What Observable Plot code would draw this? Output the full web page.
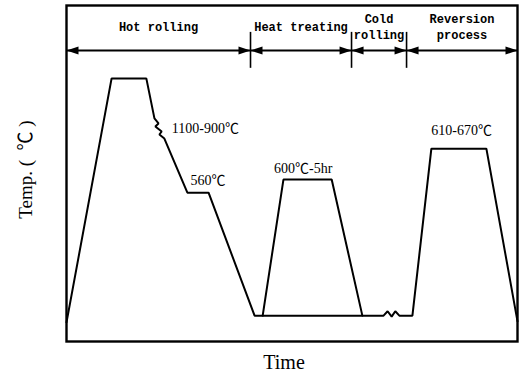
<!DOCTYPE html>
<html>
<head>
<meta charset="utf-8">
<script src="https://cdn.jsdelivr.net/npm/d3@7"></script>
<script src="https://cdn.jsdelivr.net/npm/@observablehq/plot@0.6"></script>
<style>
  body { margin: 0; background: #fff; }
</style>
</head>
<body>
<div id="chart"></div>
<script>
// Processing stages along the (relative) time axis, 0–100
const stageNames = ["Hot rolling", "Heat treating", "Cold\nrolling", "Reversion\nprocess"];
const stageStart = [0, 40.8, 63.2, 75.4];
const stageEnd = [40.8, 63.2, 75.4, 100];

// Main thermal path: relative time vs. relative temperature level (schematic, 0–100)
const pathTime = [0, 10.0, 17.7, 19.5, 20.4, 19.7, 21.1, 20.6, 21.7, 26.8, 31.5, 41.7,
                  70.3, 71.2, 72.1, 72.9, 73.8, 76.7, 80.9, 93.1, 100];
const pathTemp = [5.7, 78.3, 78.3, 66.4, 64.9, 64.0, 62.5, 61.6, 60.4, 44.3, 44.3, 7.7,
                  7.7, 9.0, 7.4, 9.0, 7.7, 7.7, 57.4, 57.4, 6.0];

// Heat-treatment hold, drawn over the room-temperature line
const holdTime = [43.5, 48.1, 58.8, 65.6];
const holdTemp = [7.7, 48.2, 48.2, 7.7];

// Temperature notes
const noteText = ["1100-900℃", "560℃", "600℃-5hr", "610-670℃"];
const noteTime = [30.8, 31.4, 52.5, 87.6];
const noteTemp = [63.4, 47.9, 51.5, 62.8];

// Layout of the stage header row (in the y scale's units)
const arrowLevel = 86.6;
const dividerLow = 81.3;
const dividerHigh = 92.0;
const stageLabelLevel = 94.0;

const path = pathTime.map((t, i) => ({t, T: pathTemp[i], part: "main"}))
  .concat(holdTime.map((t, i) => ({t, T: holdTemp[i], part: "hold"})));
const stages = stageNames.map((name, i) => ({name, start: stageStart[i], end: stageEnd[i]}));
const notes = noteText.map((text, i) => ({text, t: noteTime[i], T: noteTemp[i]}));
const dividers = stageStart.slice(1);

// Elongated filled arrowhead with its tip at the origin, pointing right
const arrowHead = {
  draw(context, size) {
    const k = Math.sqrt(size / Math.PI);
    context.moveTo(0, 0);
    context.lineTo(-3 * k, -k);
    context.lineTo(-3 * k, k);
    context.closePath();
  }
};

const headerFont = "'Liberation Mono', 'DejaVu Sans Mono', monospace";
const serif = "'Liberation Serif', 'Noto Sans CJK SC', serif";

const chart = Plot.plot({
  width: 524,
  height: 373,
  marginLeft: 66,
  marginRight: 7,
  marginTop: 5,
  marginBottom: 32,
  x: {domain: [0, 100], axis: null},
  y: {domain: [0, 100], axis: null},
  style: {background: "#fff", color: "#000"},
  marks: [
    Plot.frame({stroke: "#000", strokeWidth: 2.4}),
    // stage header: arrow line, dividers and arrowheads
    Plot.ruleY([arrowLevel], {x1: 0, x2: 100, stroke: "#000", strokeWidth: 2}),
    Plot.ruleX(dividers, {y1: dividerLow, y2: dividerHigh, stroke: "#000", strokeWidth: 1.6}),
    Plot.dot(stages, {x: "start", y: arrowLevel, symbol: arrowHead, r: 4, fill: "#000", stroke: null, rotate: 180}),
    Plot.dot(stages, {x: "end", y: arrowLevel, symbol: arrowHead, r: 4, fill: "#000", stroke: null}),
    Plot.text(stages, {
      x: d => (d.start + d.end) / 2, y: stageLabelLevel, text: "name",
      fontFamily: headerFont, fontWeight: "bold", fontSize: 12, lineHeight: 1.33, fill: "#000"
    }),
    // thermal path
    Plot.line(path, {x: "t", y: "T", z: "part", stroke: "#000", strokeWidth: 2, strokeLinejoin: "miter"}),
    Plot.text(notes, {x: "t", y: "T", text: "text", fontFamily: serif, fontSize: 14, fill: "#000"}),
    // axis titles
    Plot.text(["Time"], {
      frameAnchor: "bottom", textAnchor: "middle", lineAnchor: "middle", dx: -8, dy: 21,
      fontFamily: serif, fontSize: 20, fill: "#000"
    }),
    Plot.text(["Temp. (  ℃ )"], {
      frameAnchor: "left", textAnchor: "middle", lineAnchor: "middle", rotate: -90, dx: -41, dy: -4,
      fontFamily: serif, fontSize: 19, fill: "#000"
    })
  ]
});

document.getElementById("chart").appendChild(chart);
</script>
</body>
</html>
